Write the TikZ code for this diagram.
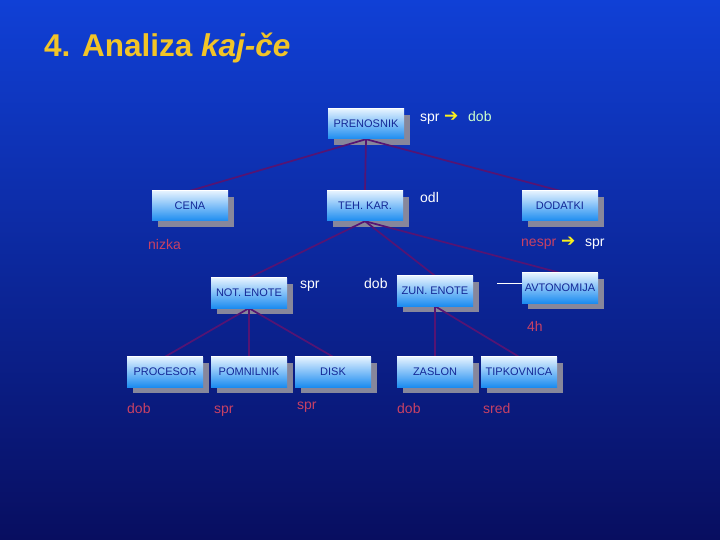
\documentclass[tikz,border=0pt]{standalone}
\usepackage{fontspec}
\setmainfont{Liberation Sans}
\newfontfamily\symfont{DejaVu Sans}
\pgfdeclarelayer{bglayer}
\pgfdeclarelayer{linelayer}
\pgfsetlayers{bglayer,linelayer,main}
\definecolor{bgtop}{RGB}{16,64,214}
\definecolor{bgbot}{RGB}{8,14,96}
\definecolor{titlecol}{RGB}{242,196,40}
\definecolor{boxtop}{RGB}{228,242,255}
\definecolor{boxbot}{RGB}{28,140,240}
\definecolor{boxtext}{RGB}{20,40,150}
\definecolor{linecol}{RGB}{85,20,115}
\definecolor{redtext}{RGB}{200,65,100}
\definecolor{greentext}{RGB}{205,255,205}
\definecolor{arrowcol}{RGB}{250,240,30}
\definecolor{shadowcol}{RGB}{135,135,155}
\tikzset{
  orgbox/.style={minimum width=76pt, minimum height=30pt, inner sep=0pt,
    top color=boxtop, bottom color=boxbot, text=boxtext,
    font=\fontsize{11}{13}\selectfont,
    append after command={
      \pgfextra{
        \begin{pgfonlayer}{linelayer}
        \fill[shadowcol] ([xshift=6pt,yshift=-6pt]\tikzlastnode.south west) rectangle ([xshift=6pt,yshift=-6pt]\tikzlastnode.north east);
        \end{pgfonlayer}
      }
      (\tikzlastnode.north west) edge[draw=white, line width=1.3pt] (\tikzlastnode.north east)
    }},
  conn/.style={draw=linecol, line width=1.7pt},
  lbl/.style={font=\fontsize{14}{16}\selectfont, inner sep=0pt, anchor=base west},
  arr/.style={font=\symfont\fontsize{17}{18}\selectfont, text=arrowcol, inner sep=0pt, anchor=base west}
}
\begin{document}
\begin{tikzpicture}[x=1pt,y=-1pt]
\begin{pgfonlayer}{bglayer}
\shade[top color=bgtop, bottom color=bgbot] (0,0) rectangle (720,540);
\end{pgfonlayer}
\useasboundingbox (0,0) rectangle (720,540);

\node[anchor=base west, inner sep=0pt, text=titlecol, font=\bfseries\fontsize{31.5}{35}\selectfont] (title) at (44,57) {4. Analiza \textit{kaj-če}};

% boxes
\node[orgbox] (pren) at (366,124) {PRENOSNIK};
\node[orgbox] (cena) at (190,206) {CENA};
\node[orgbox] (teh) at (365,206) {TEH. KAR.};
\node[orgbox] (dod) at (560,206) {DODATKI};
\node[orgbox] (not) at (249,293) {NOT. ENOTE};
\node[orgbox] (zun) at (435,291) {ZUN. ENOTE};
\node[orgbox] (avt) at (560,288) {AVTONOMIJA};
\node[orgbox] (proc) at (165,372) {PROCESOR};
\node[orgbox] (pomn) at (249,372) {POMNILNIK};
\node[orgbox] (disk) at (333,372) {DISK};
\node[orgbox] (zasl) at (435,372) {ZASLON};
\node[orgbox] (tipk) at (519,372) {TIPKOVNICA};

% connectors
\begin{pgfonlayer}{linelayer}
\draw[conn] (pren.south) -- (cena.north);
\draw[conn] (pren.south) -- (teh.north);
\draw[conn] (pren.south) -- (dod.north);
\draw[conn] (teh.south) -- (not.north);
\draw[conn] (teh.south) -- (zun.north);
\draw[conn] (teh.south) -- (avt.north);
\draw[conn] (not.south) -- (proc.north);
\draw[conn] (not.south) -- (pomn.north);
\draw[conn] (not.south) -- (disk.north);
\draw[conn] (zun.south) -- (zasl.north);
\draw[conn] (zun.south) -- (tipk.north);
\end{pgfonlayer}
\coordinate (avtl) at (497,283);
\draw[white, line width=0.8pt] (avtl) -- (avt.west |- avtl);

% labels
\node[lbl, text=white] (s1) at (420,122) {spr};
\node[arr] (a1) at (444,122) {➔};
\node[lbl, text=greentext] (d1) at (468,122) {dob};
\node[lbl, text=white] (odl) at (420,203) {odl};
\node[lbl, text=redtext] (nizka) at (148,249) {nizka};
\node[lbl, text=redtext] (nespr) at (521,247) {nespr};
\node[arr] (a2) at (561,247) {➔};
\node[lbl, text=white] (s2) at (585,247) {spr};
\node[lbl, text=white] (s3) at (300,288) {spr};
\node[lbl, text=white] (d3) at (364,288) {dob};
\node[lbl, text=redtext] (h4) at (527,331) {4h};
\node[lbl, text=redtext] (b1) at (127,413) {dob};
\node[lbl, text=redtext] (b2) at (214,413) {spr};
\node[lbl, text=redtext] (b3) at (297,409) {spr};
\node[lbl, text=redtext] (b4) at (397,413) {dob};
\node[lbl, text=redtext] (b5) at (483,413) {sred};
\end{tikzpicture}
\end{document}
